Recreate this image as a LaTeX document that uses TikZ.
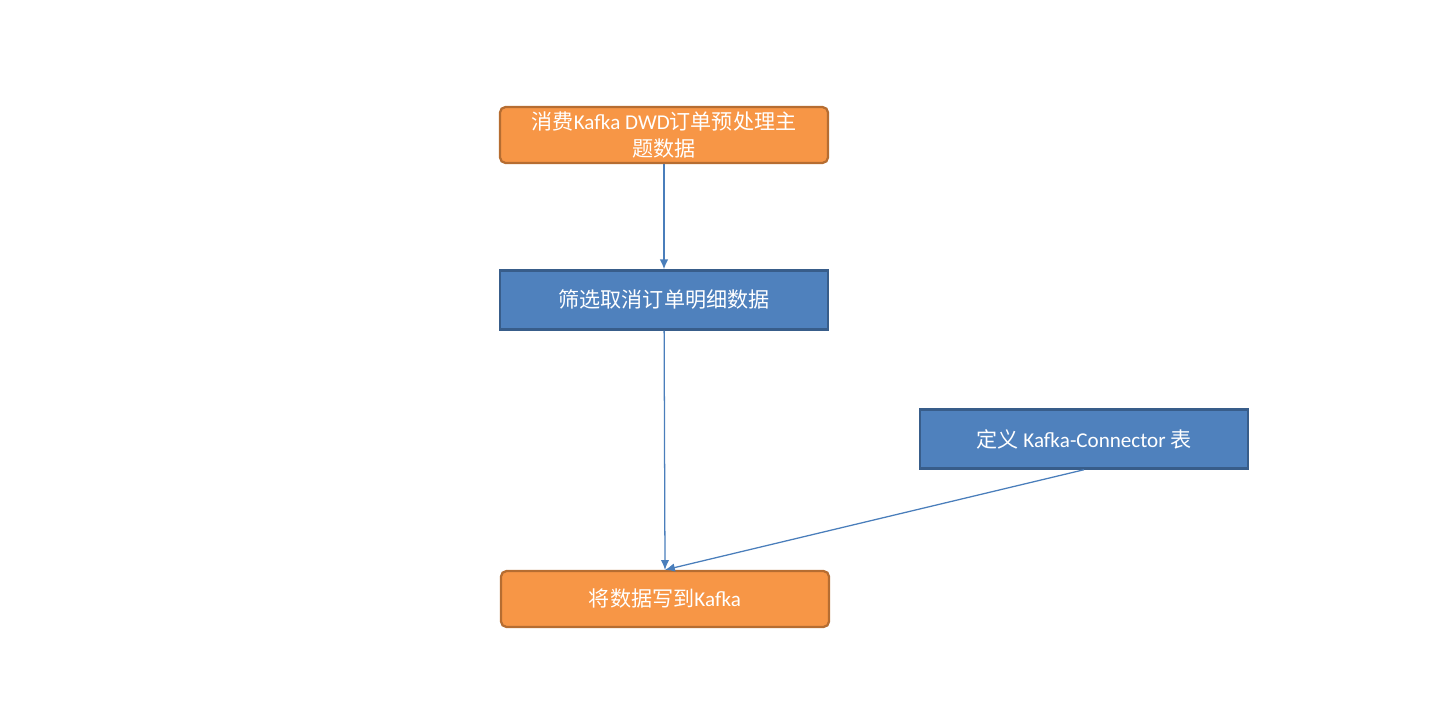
\documentclass[tikz,border=0pt]{standalone}
\usepackage{fontspec}
\setmainfont{Carlito}
\newfontfamily\cjk{Noto Sans CJK SC}
\usetikzlibrary{positioning,arrows.meta}
\definecolor{orfill}{HTML}{F79646}
\definecolor{ordraw}{HTML}{B66D31}
\definecolor{blfill}{HTML}{4F81BD}
\definecolor{bldraw}{HTML}{385D8A}
\definecolor{arrcol}{HTML}{4A7EBB}
\tikzset{orbox/.style={rectangle,rounded corners=4pt,fill=orfill,draw=ordraw,line width=1.6pt,minimum width=8.2cm,minimum height=1.4cm,text=white,align=center,font=\fontsize{15}{19}\selectfont},
blbox/.style={rectangle,fill=blfill,draw=bldraw,line width=1.6pt,minimum width=8.2cm,minimum height=1.48cm,text=white,align=center,font=\fontsize{15}{18}\selectfont},
arrowout/.style={-{Latex[length=7pt,width=6pt]},draw=arrcol,line width=0.9pt}}

\begin{document}
\begin{tikzpicture}[x=0.025cm,y=-0.025cm]
\useasboundingbox (0,0) rectangle (1438,708);

\node (src) at (664,135)[orbox]{{\cjk 消费}Kafka DWD{\cjk 订单预处理主}\\{\cjk 题数据}};
\node (filt) at (664,300)[blbox]{\cjk 筛选取消订单明细数据};
\node (conn) at (1084,439)[blbox]{{\cjk 定义} Kafka-Connector {\cjk 表}};
\node (sink) at (665,599)[orbox]{{\cjk 将数据写到}Kafka};

\draw[arrowout] (src) -- (filt);
\draw[arrowout] (filt) -- (sink.north);
\draw[arrowout] (conn.south) -- (sink.north);

\end{tikzpicture}
\end{document}
